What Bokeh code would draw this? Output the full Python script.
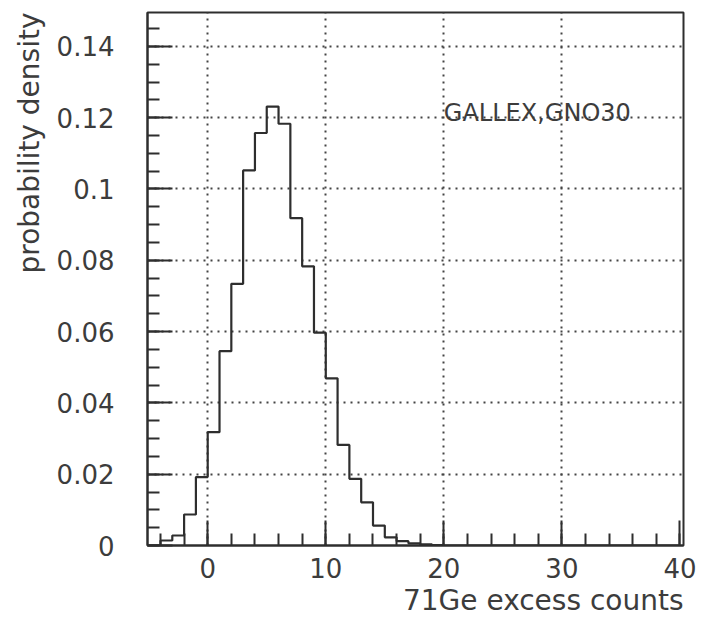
from bokeh.plotting import figure
from bokeh.models import SingleIntervalTicker, FixedTicker, CustomJSTickFormatter, Range1d, Title
from bokeh.core.properties import value
from bokeh.embed import file_html
from bokeh.resources import INLINE

# Histogram: left bin edges (width 1) and probability density per bin
bin_left = list(range(-5, 40))
density = [0.0, 0.0014, 0.0028, 0.0087, 0.0192, 0.0318, 0.0545, 0.0734, 0.1052, 0.1157,
           0.1231, 0.1183, 0.0918, 0.0783, 0.0597, 0.0469, 0.0282, 0.0187, 0.0121, 0.0056,
           0.0023, 0.0012, 0.0006, 0.0003, 0.0001] + [0.0] * 20
x_grid_ticks = [0, 10, 20, 30]
y_grid_ticks = [0.02, 0.04, 0.06, 0.08, 0.10, 0.12, 0.14]
label_text = "GALLEX,GNO30"
x_title = "71Ge excess counts"
y_title = "probability density"

FONT = "DejaVu Sans"
TXT = "#3c3c3c"
LINE = "#2e2e2e"

p = figure(width=707, height=635, output_backend="svg", toolbar_location=None,
           x_range=Range1d(-5.1, 40.3), y_range=Range1d(0, 0.1495),
           min_border_left=147, min_border_right=24, min_border_top=12, min_border_bottom=90,
           background_fill_color="white", border_fill_color="white")

p.outline_line_color = LINE
p.outline_line_width = 2
p.outline_line_alpha = 1

# step histogram
xs = bin_left + [40]
ys = density + [0.0]
p.step(x=xs, y=ys, mode="after", line_color=LINE, line_width=2.2)

p.text(x=[20], y=[0.1213], text=[label_text], text_font=value(FONT),
       text_font_size="24px", text_color=TXT, text_baseline="alphabetic", text_align="left")

for ax in (p.xaxis[0], p.yaxis[0]):
    ax.axis_line_color = LINE
    ax.axis_line_width = 2
    ax.major_tick_line_color = LINE
    ax.major_tick_line_width = 2
    ax.minor_tick_line_color = LINE
    ax.minor_tick_line_width = 2
    ax.major_tick_out = 0
    ax.minor_tick_out = 0
    ax.major_tick_in = 25
    ax.minor_tick_in = 12
    ax.major_label_text_font = FONT
    ax.major_label_text_font_size = "26px"
    ax.major_label_text_color = TXT

p.xaxis.ticker = SingleIntervalTicker(interval=10, num_minor_ticks=5)
p.yaxis.ticker = SingleIntervalTicker(interval=0.02, num_minor_ticks=4)
p.yaxis.formatter = CustomJSTickFormatter(code="return String(Math.round(tick*100)/100);")
p.xaxis.major_label_standoff = 12
p.yaxis.major_label_standoff = 33

# axis titles, aligned to the frame ends as in the reference
p.add_layout(Title(text=x_title, align="right", text_font=FONT, text_font_size="28px",
                   text_color=TXT, text_font_style="normal", standoff=3, offset=0), "below")
p.add_layout(Title(text=y_title, align="right", text_font=FONT, text_font_size="28px",
                   text_color=TXT, text_font_style="normal", standoff=16, offset=0), "left")

p.xgrid.ticker = FixedTicker(ticks=x_grid_ticks)
p.ygrid.ticker = FixedTicker(ticks=y_grid_ticks)
for g in (p.xgrid[0], p.ygrid[0]):
    g.grid_line_color = "#444444"
    g.grid_line_width = 2
    g.grid_line_dash = "2 5"

open("out.html", "w").write(file_html(p, INLINE))
